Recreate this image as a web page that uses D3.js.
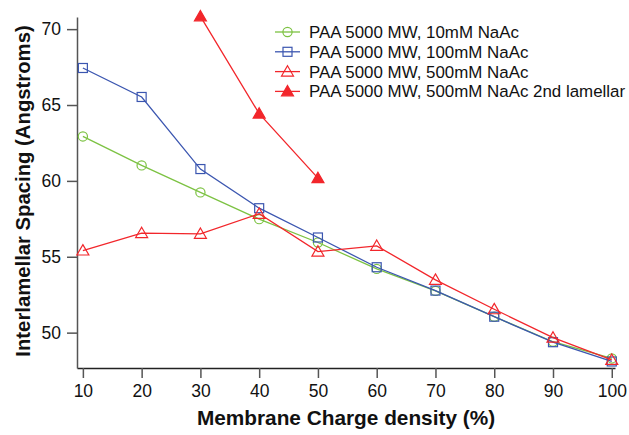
<!DOCTYPE html>
<html>
<head>
<meta charset="utf-8">
<script src="https://cdn.jsdelivr.net/npm/d3@7"></script>
<style>
  body { margin: 0; background: #fff; }
  text { font-family: "Liberation Sans", Arial, sans-serif; }
  .legend_item_text { font-size: 16.9px; fill: #111; }
</style>
</head>
<body>
<div id="chart"></div>
<script>
// charge density (%)
const charge = [10, 20, 30, 40, 50, 60, 70, 80, 90, 100]
const naac10 = [62.93, 61.02, 59.24, 57.48, 55.94, 54.2, 52.75, 51.05, 49.4, 48.3]
const naac100 = [67.44, 65.53, 60.78, 58.2, 56.27, 54.31, 52.77, 51.05, 49.37, 48.1]
const naac500 = [55.41, 56.56, 56.51, 57.83, 55.34, 55.72, 53.48, 51.54, 49.67, 48.2]
const charge2nd = [30, 40, 50]
const naac500second = [70.84, 64.43, 60.18]
const yTicks = [50, 55, 60, 65, 70]
const xTicks = [10, 20, 30, 40, 50, 60, 70, 80, 90, 100]

const width = 629, height = 435

let svg = d3.select("#chart").append("svg")
  .attr("width", width).attr("height", height)

let x = d3.scaleLinear().domain([9, 100.55]).range([77, 615])
let y = d3.scaleLinear().domain([47.67, 70.8]).range([368, 17])

// axes
let xAxis = svg.append("g").attr("transform", "translate(0,368)")
  .call(d3.axisBottom(x).tickValues(xTicks).tickSize(10).tickSizeOuter(0).tickPadding(7))
let yAxis = svg.append("g").attr("transform", "translate(77,0)")
  .call(d3.axisLeft(y).tickValues(yTicks).tickSize(10).tickSizeOuter(0).tickPadding(6))

xAxis.selectAll("text").style("font-size", "17.5px").style("fill", "#111")
yAxis.selectAll("text").style("font-size", "17.5px").style("fill", "#111")
xAxis.select(".domain").attr("stroke", "#222").attr("stroke-width", 1.5)
yAxis.select(".domain").attr("stroke", "#555").attr("stroke-width", 1.5)
xAxis.selectAll(".tick line").attr("stroke", "#555").attr("stroke-width", 1.5)
yAxis.selectAll(".tick line").attr("stroke", "#555").attr("stroke-width", 1.5)

// axis titles
svg.append("text").attr("x", 346).attr("y", 425).attr("text-anchor", "middle")
  .style("font-size", "20.8px").style("font-weight", "bold").style("fill", "#111")
  .text("Membrane Charge density (%)")
svg.append("text").attr("transform", "translate(30,191) rotate(-90)").attr("text-anchor", "middle")
  .style("font-size", "20.3px").style("font-weight", "bold").style("fill", "#111")
  .text("Interlamellar Spacing (Angstroms)")

const green = "#7cc242", blue = "#3b56b0", red = "#f2262b"

let line = d3.line().x(d => x(d[0])).y(d => y(d[1]))
let triangle = d3.symbol().type(d3.symbolTriangle).size(62)

function drawSeries(xs, ys, color, shape, filled) {
  let pts = xs.map((v, i) => [v, ys[i]])
  svg.append("path").datum(pts).attr("d", line)
    .attr("fill", "none").attr("stroke", color).attr("stroke-width", 1.3)
  let g = svg.append("g")
  pts.forEach(p => drawMarker(g, x(p[0]), y(p[1]), color, shape, filled))
}

function drawMarker(g, cx, cy, color, shape, filled) {
  if (shape == "circle") {
    g.append("circle").attr("cx", cx).attr("cy", cy).attr("r", 4.6)
      .attr("fill", "none").attr("stroke", color).attr("stroke-width", 1.2)
  } else if (shape == "square") {
    g.append("rect").attr("x", cx - 4.5).attr("y", cy - 4.5).attr("width", 9).attr("height", 9)
      .attr("fill", "none").attr("stroke", color).attr("stroke-width", 1.2)
  } else {
    g.append("path").attr("d", triangle).attr("transform", "translate(" + cx + "," + (cy + 1) + ")")
      .attr("fill", filled ? color : "none").attr("stroke", color).attr("stroke-width", 1.2)
  }
}

drawSeries(charge, naac10, green, "circle", false)
drawSeries(charge, naac100, blue, "square", false)
drawSeries(charge, naac500, red, "triangle", false)
drawSeries(charge2nd, naac500second, red, "triangle", true)

// legend
let legend = svg.append("g")
const legendItems = [
  ["PAA 5000 MW, 10mM NaAc", green, "circle", false],
  ["PAA 5000 MW, 100mM NaAc", blue, "square", false],
  ["PAA 5000 MW, 500mM NaAc", red, "triangle", false],
  ["PAA 5000 MW, 500mM NaAc 2nd lamellar", red, "triangle", true]
]
legendItems.forEach((d, i) => {
  let ly = 32 + i * 19.8
  legend.append("line").attr("x1", 275).attr("x2", 300).attr("y1", ly).attr("y2", ly)
    .attr("stroke", d[1]).attr("stroke-width", 1.3)
  drawMarker(legend, 287.5, ly, d[1], d[2], d[3])
  legend.append("text").attr("x", 309).attr("y", ly + 6).text(d[0]).attr("class", "legend_item_text")
})
</script>
</body>
</html>
